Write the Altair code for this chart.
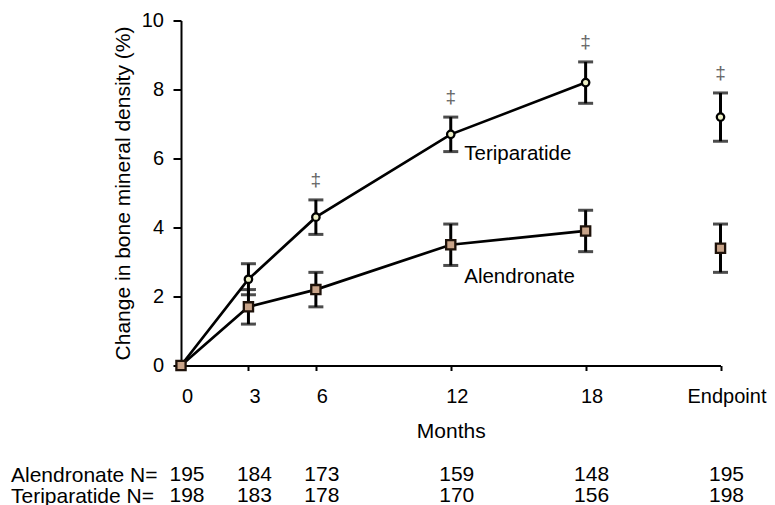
import altair as alt
import pandas as pd

# ---- data ----
months = [0, 3, 6, 12, 18, 24]          # 24 = "Endpoint"
teri_mean = [0.0, 2.5, 4.3, 6.7, 8.2, 7.2]
teri_err = [0.0, 0.45, 0.5, 0.5, 0.6, 0.7]
alen_mean = [0.0, 1.7, 2.2, 3.5, 3.9, 3.4]
alen_err = [0.0, 0.5, 0.5, 0.6, 0.6, 0.7]
teri_sig = [False, False, True, True, True, True]
alen_n = [195, 184, 173, 159, 148, 195]
teri_n = [198, 183, 178, 170, 156, 198]
series = ["Teriparatide", "Alendronate"]
label_x = [12.6, 12.6]
label_y = [5.95, 2.4]
row_names = ["Alendronate N=", "Teriparatide N="]
y_ticks = [0, 2, 4, 6, 8, 10]

FONT = "Liberation Sans"

rows = []
for name, means, errs, sig in [
    ("Teriparatide", teri_mean, teri_err, teri_sig),
    ("Alendronate", alen_mean, alen_err, [False] * len(months)),
]:
    for m, v, e, s in zip(months, means, errs, sig):
        rows.append(dict(group=name, month=m, mean=v, lower=v - e, upper=v + e,
                         err=e, sig=s, connected=m <= 18))
df = pd.DataFrame(rows)

lab_df = pd.DataFrame(dict(group=series, lx=label_x, ly=label_y))

tab_rows = []
for rname, ns in [(row_names[0], alen_n), (row_names[1], teri_n)]:
    for m, n in zip(months, ns):
        tab_rows.append(dict(row=rname, month=m, n=str(n)))
tab_df = pd.DataFrame(tab_rows)

xscale = alt.Scale(domain=[0, 24], nice=False, zero=False)
yscale = alt.Scale(domain=[0, 10], nice=False)

x_axis = alt.Axis(values=months, labelExpr="datum.value == 24 ? 'Endpoint' : datum.label",
                  title="Months", grid=False, tickSize=5, labelPadding=16, titlePadding=14,
                  labelOffset=6, labelFlush=False, labelOverlap=False)
y_axis = alt.Axis(values=y_ticks, title="Change in bone mineral density (%)", grid=False,
                  tickSize=8, labelPadding=9.5, titlePadding=8)

base = alt.Chart(df)
X = alt.X("month:Q", scale=xscale, axis=x_axis)

lines = base.transform_filter("datum.connected").mark_line(color="black", strokeWidth=2.7).encode(
    x=X, y=alt.Y("mean:Q", scale=yscale, axis=y_axis), detail="group:N"
)
err = base.transform_filter("datum.err > 0")
rules = err.mark_rule(color="black", strokeWidth=3).encode(x=X, y="lower:Q", y2="upper:Q")
cap_lo = err.mark_tick(color="black", orient="horizontal", size=15, thickness=3).encode(x=X, y="lower:Q")
cap_hi = err.mark_tick(color="black", orient="horizontal", size=15, thickness=3).encode(x=X, y="upper:Q")

points = base.mark_point(filled=False, strokeWidth=2.3, opacity=1).encode(
    x=X, y="mean:Q",
    shape=alt.Shape("group:N", scale=alt.Scale(domain=series, range=["circle", "square"]), legend=None),
    fill=alt.Fill("group:N", scale=alt.Scale(domain=series, range=["#eef0c6", "#c9a489"]), legend=None),
    stroke=alt.Stroke("group:N", scale=alt.Scale(domain=series, range=["#000000", "#1e120a"]), legend=None),
    size=alt.Size("group:N", scale=alt.Scale(domain=series, range=[55, 85]), legend=None),
)

dagger = base.transform_filter("datum.sig").mark_text(
    text="‡", fontSize=19, color="#666666", dy=-20, font=FONT, baseline="middle"
).encode(x=X, y="upper:Q")

labels = alt.Chart(lab_df).mark_text(align="left", baseline="alphabetic", fontSize=20.5,
                                     font=FONT, color="black").encode(
    x=alt.X("lx:Q", scale=xscale), y=alt.Y("ly:Q", scale=yscale), text="group:N"
)

main = alt.layer(lines, rules, cap_lo, cap_hi, points, dagger, labels).properties(
    width=539.5, height=345
)

table = alt.Chart(tab_df).mark_text(fontSize=21, dx=6, font=FONT, color="black").encode(
    x=alt.X("month:Q", scale=xscale, axis=None),
    y=alt.Y("row:N", sort=row_names,
            axis=alt.Axis(title=None, domain=False, ticks=False, tickSize=0, labelAlign="left",
                          labelPadding=170.5, labelFontSize=21, labelFont=FONT,
                          labelColor="black")),
    text="n:N",
).properties(width=539.5, height=42)

chart = alt.vconcat(main, table, spacing=22).properties(
    padding={"left": 2, "top": 2.5, "right": 0, "bottom": 0}, background="white"
).configure_view(stroke=None).configure_axis(
    labelFont=FONT, titleFont=FONT, labelFontSize=20, titleFontSize=21,
    labelColor="black", titleColor="black", titleFontWeight="normal",
    domainColor="black", domainWidth=2, tickColor="black", tickWidth=2,
)

chart.save("out.html", embed_options={"renderer": "svg", "actions": False})
